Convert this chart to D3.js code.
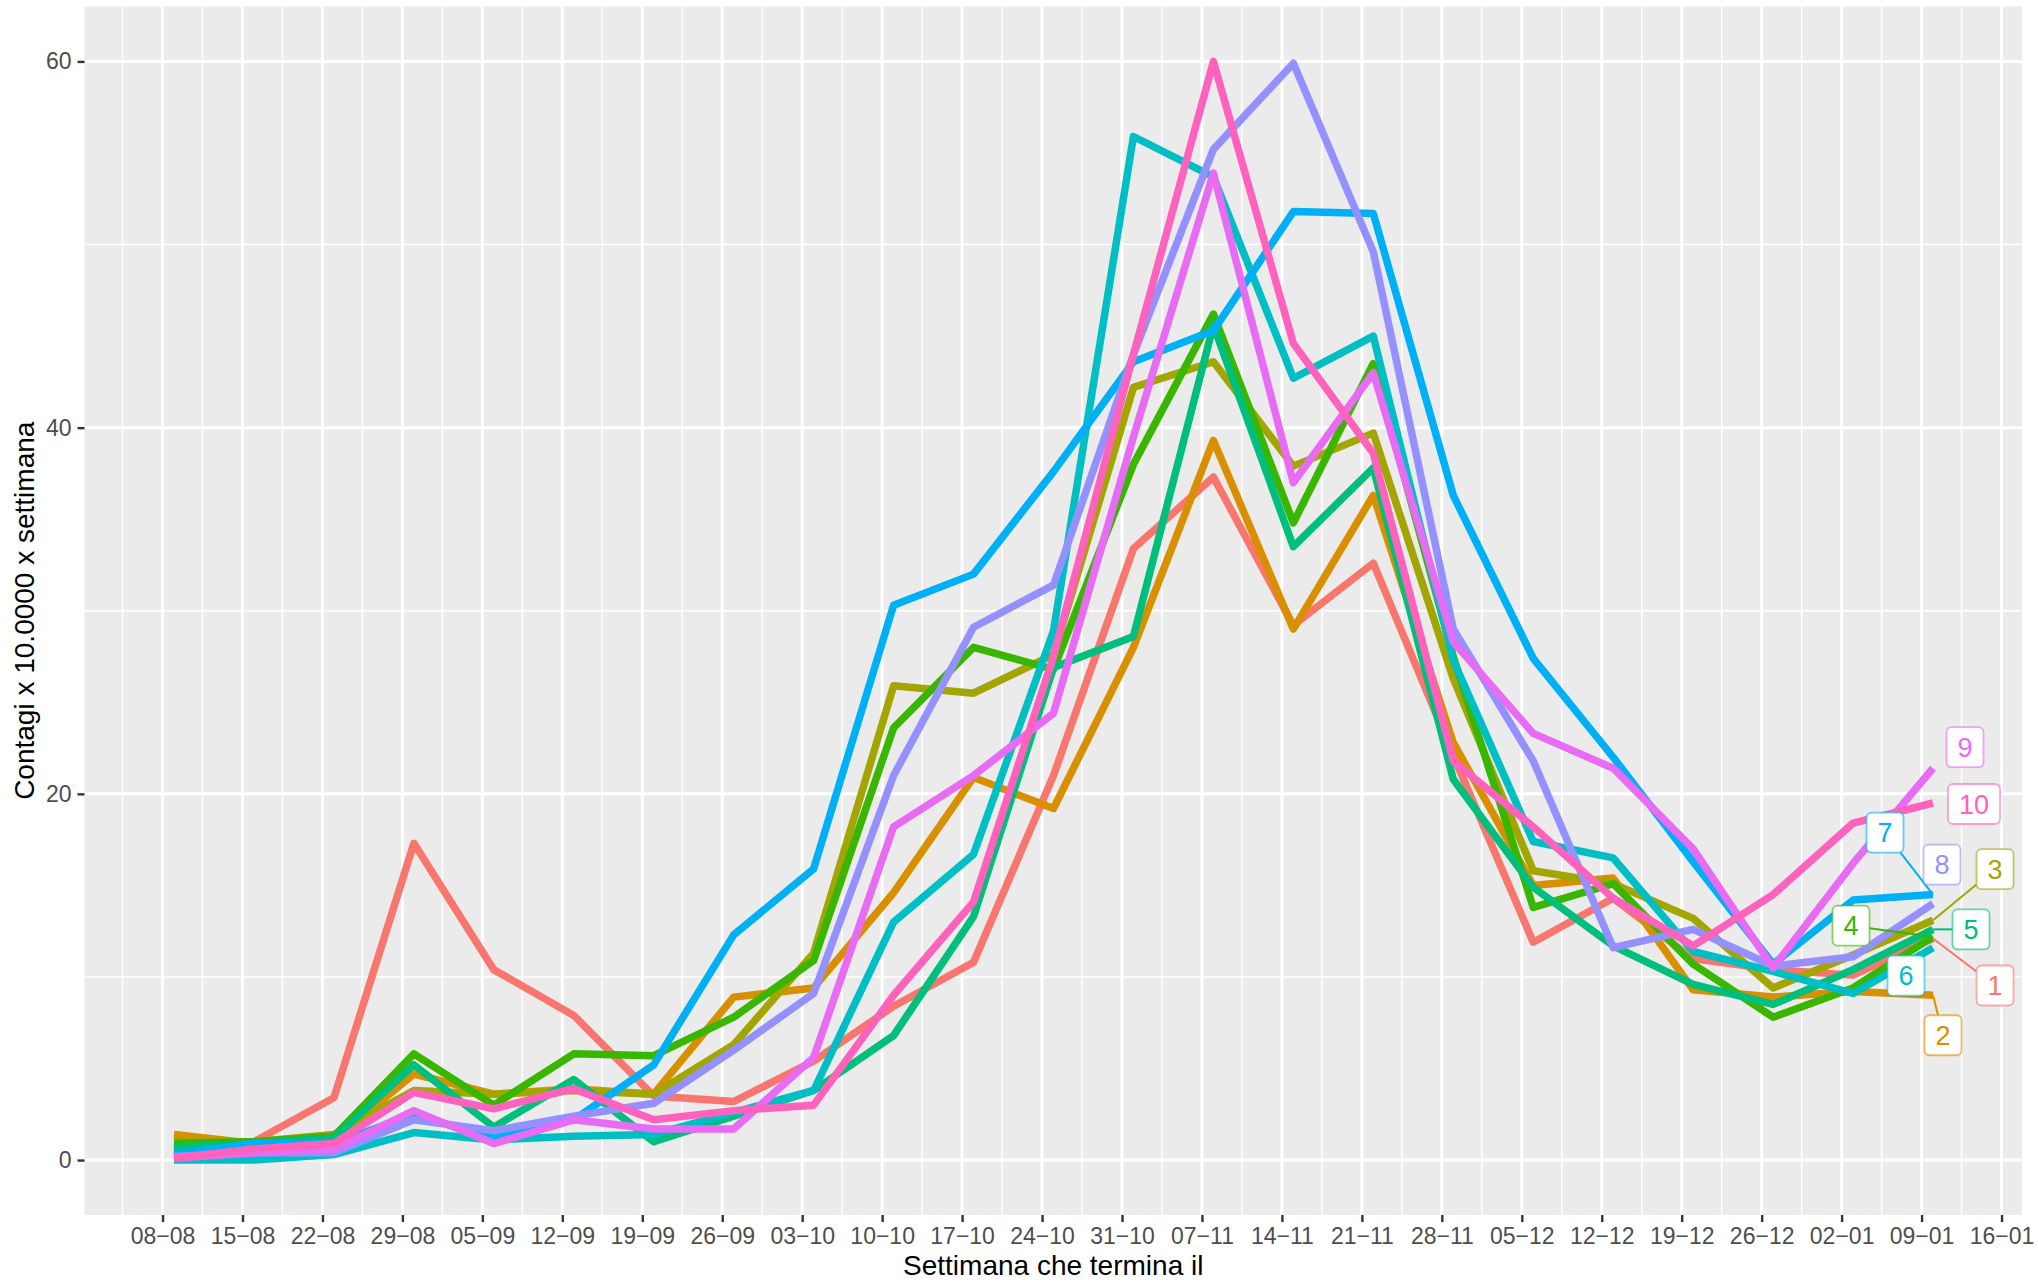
<!DOCTYPE html>
<html>
<head>
<meta charset="utf-8">
<script src="https://cdn.jsdelivr.net/npm/d3@7"></script>
<style>
  html, body { margin: 0; padding: 0; background: #fff; }
  svg { display: block; font-family: "Liberation Sans", Arial, sans-serif; }
</style>
</head>
<body>
<svg id="chart" width="2038" height="1283"></svg>
<script>
// weeks (data points) and axis breaks
const weekEnds = ["2020-08-09", "2020-08-16", "2020-08-23", "2020-08-30", "2020-09-06", "2020-09-13",
  "2020-09-20", "2020-09-27", "2020-10-04", "2020-10-11", "2020-10-18", "2020-10-25", "2020-11-01",
  "2020-11-08", "2020-11-15", "2020-11-22", "2020-11-29", "2020-12-06", "2020-12-13", "2020-12-20",
  "2020-12-27", "2021-01-03", "2021-01-10"]
const tickDates = ["2020-08-08", "2020-08-15", "2020-08-22", "2020-08-29", "2020-09-05", "2020-09-12",
  "2020-09-19", "2020-09-26", "2020-10-03", "2020-10-10", "2020-10-17", "2020-10-24", "2020-10-31",
  "2020-11-07", "2020-11-14", "2020-11-21", "2020-11-28", "2020-12-05", "2020-12-12", "2020-12-19",
  "2020-12-26", "2021-01-02", "2021-01-09", "2021-01-16"]
const yTicks = [0, 20, 40, 60]

const groups = ["1", "2", "3", "4", "5", "6", "7", "8", "9", "10"]

const s1 = [0.5, 1.0, 3.4, 17.3, 10.4, 7.9, 3.5, 3.2, 5.4, 8.4, 10.8, 21.0, 33.4, 37.3, 29.2, 32.6, 22.1, 11.9, 14.3, 11.0, 10.4, 10.1, 12.1]
const s2 = [1.4, 0.9, 1.1, 4.7, 3.6, 3.9, 3.6, 8.9, 9.4, 14.6, 20.9, 19.2, 28.0, 39.3, 29.0, 36.3, 22.8, 15.0, 15.4, 9.3, 8.9, 9.2, 9.0]
const s3 = [1.0, 1.0, 1.4, 3.8, 3.6, 3.8, 3.6, 6.3, 11.3, 25.9, 25.5, 27.6, 42.2, 43.6, 37.9, 39.7, 26.3, 15.8, 15.1, 13.2, 9.4, 11.2, 13.1]
const s4 = [0.9, 1.0, 1.3, 5.8, 3.0, 5.8, 5.7, 7.8, 10.9, 23.6, 28.0, 26.8, 38.0, 46.2, 34.8, 43.5, 27.5, 13.8, 15.1, 10.7, 7.8, 9.4, 12.2]
const s5 = [0.7, 0.9, 1.2, 5.2, 1.8, 4.4, 1.0, 2.4, 3.8, 6.8, 13.3, 26.9, 28.6, 45.6, 33.5, 37.8, 20.8, 14.9, 11.7, 9.6, 8.5, 10.4, 12.6]
const s6 = [0.0, 0.0, 0.3, 1.5, 1.1, 1.3, 1.4, 2.6, 3.8, 13.0, 16.7, 28.9, 55.9, 53.7, 42.7, 45.0, 27.3, 17.4, 16.5, 11.4, 10.3, 9.1, 11.6]
const s7 = [0.3, 0.9, 0.9, 2.5, 1.2, 2.2, 5.2, 12.3, 15.9, 30.3, 32.0, 37.6, 43.6, 45.3, 51.8, 51.7, 36.3, 27.4, 22.0, 16.3, 10.7, 14.2, 14.5]
const s8 = [0.2, 0.4, 0.4, 2.2, 1.6, 2.4, 3.1, 6.0, 9.1, 21.0, 29.1, 31.4, 44.0, 55.2, 59.9, 49.6, 29.0, 21.8, 11.6, 12.6, 10.6, 11.1, 14.0]
const s9 = [0.1, 0.4, 0.6, 2.7, 0.9, 2.2, 1.7, 1.7, 5.6, 18.2, 21.0, 24.4, 39.5, 53.9, 37.0, 43.0, 28.3, 23.3, 21.4, 17.0, 10.5, 16.2, 21.4]
const s10 = [0.1, 0.6, 0.9, 3.7, 2.8, 3.9, 2.2, 2.7, 3.0, 9.0, 14.1, 27.5, 44.0, 60.0, 44.6, 38.6, 21.8, 18.2, 14.3, 11.7, 14.5, 18.4, 19.5]
const seriesValues = [s1, s2, s3, s4, s5, s6, s7, s8, s9, s10]

// ggplot hue palette
const colors = ["#F8766D", "#D89000", "#A3A500", "#39B600", "#00BF7D", "#00BFC4", "#00B0F6", "#9590FF", "#E76BF3", "#FF62BC"]

// repelled label offsets from the last point (px), and whether a connector is drawn
const labelOffsets = [[62, 47], [10, 40], [62, -51], [-82, -11], [38, 0], [-27, 28], [-48, -62], [9, -39], [32, -21], [41, 1]]
const labelLinks = [true, true, true, true, true, false, true, false, false, false]

const parse = d3.utcParse("%Y-%m-%d")
const dates = weekEnds.map(parse)
const ticks = tickDates.map(parse)

const panel = { left: 84.5, top: 6.5, right: 2022, bottom: 1215 }

const svg = d3.select("#chart")

const padDays = 7.8
const x = d3.scaleUtc()
  .domain([d3.utcHour.offset(dates[0], -padDays * 24), d3.utcHour.offset(dates[dates.length - 1], padDays * 24)])
  .range([panel.left, panel.right])
const y = d3.scaleLinear().domain([-3, 63]).range([panel.bottom, panel.top])

// panel background
svg.append("rect")
  .attr("x", panel.left).attr("y", panel.top)
  .attr("width", panel.right - panel.left).attr("height", panel.bottom - panel.top)
  .attr("fill", "#EBEBEB")

// minor grid: midpoints between breaks
const minorX = [new Date(ticks[0].getTime() - (ticks[1] - ticks[0]) / 2)]
  .concat(ticks.slice(1).map((t, i) => new Date((t.getTime() + ticks[i].getTime()) / 2)))
  .filter(d => x(d) > panel.left && x(d) < panel.right)
const minorY = yTicks.slice(1).map((t, i) => (t + yTicks[i]) / 2)

const grid = svg.append("g")
grid.selectAll(".minor-x").data(minorX).join("line")
  .attr("x1", d => x(d)).attr("x2", d => x(d))
  .attr("y1", panel.top).attr("y2", panel.bottom)
  .attr("stroke", "#fff").attr("stroke-width", 1.5)
grid.selectAll(".minor-y").data(minorY).join("line")
  .attr("y1", d => y(d)).attr("y2", d => y(d))
  .attr("x1", panel.left).attr("x2", panel.right)
  .attr("stroke", "#fff").attr("stroke-width", 1.5)
grid.selectAll(".major-x").data(ticks).join("line")
  .attr("x1", d => x(d)).attr("x2", d => x(d))
  .attr("y1", panel.top).attr("y2", panel.bottom)
  .attr("stroke", "#fff").attr("stroke-width", 3)
grid.selectAll(".major-y").data(yTicks).join("line")
  .attr("y1", d => y(d)).attr("y2", d => y(d))
  .attr("x1", panel.left).attr("x2", panel.right)
  .attr("stroke", "#fff").attr("stroke-width", 3)

// axes
const styleAxis = g => {
  g.select(".domain").remove()
  g.selectAll(".tick line").attr("stroke", "#333333").attr("stroke-width", 2.4)
  g.selectAll(".tick text").attr("font-size", 23).attr("fill", "#4D4D4D")
    .attr("font-family", "'Liberation Sans', Arial, sans-serif")
}

svg.append("g")
  .attr("transform", `translate(0,${panel.bottom})`)
  .call(d3.axisBottom(x).tickValues(ticks).tickFormat(d3.utcFormat("%d\u2212%m")).tickSize(7).tickPadding(5.5))
  .call(styleAxis)

svg.append("g")
  .attr("transform", `translate(${panel.left},0)`)
  .call(d3.axisLeft(y).tickValues(yTicks).tickSize(7).tickPadding(6))
  .call(styleAxis)

// axis titles
svg.append("text")
  .attr("x", (panel.left + panel.right) / 2).attr("y", 1275)
  .attr("text-anchor", "middle").attr("font-size", 28).attr("fill", "#000")
  .text("Settimana che termina il")

svg.append("text")
  .attr("transform", `translate(34,${(panel.top + panel.bottom) / 2}) rotate(-90)`)
  .attr("text-anchor", "middle").attr("font-size", 28).attr("fill", "#000")
  .text("Contagi x 10.0000 x settimana")

// lines
const line = d3.line()
  .x((d, i) => x(dates[i]))
  .y(d => y(d))

svg.append("g")
  .selectAll("path")
  .data(seriesValues)
  .join("path")
  .attr("d", d => line(d))
  .attr("fill", "none")
  .attr("stroke", (d, i) => colors[i])
  .attr("stroke-width", 7.5)
  .attr("stroke-linejoin", "round")

// end labels (ggrepel style)
const labels = svg.append("g")
const lastDate = dates[dates.length - 1]
const fontSize = 27
const boxH = 40

groups.forEach((name, i) => {
  const vals = seriesValues[i]
  const px = x(lastDate)
  const py = y(vals[vals.length - 1])
  const cx = px + labelOffsets[i][0]
  const cy = py + labelOffsets[i][1]

  const t = labels.append("text")
    .attr("x", cx).attr("y", cy)
    .attr("dy", "0.36em")
    .attr("text-anchor", "middle")
    .attr("font-size", fontSize)
    .attr("fill", colors[i])
    .text(name)
  const tw = t.node().getComputedTextLength()
  const boxW = tw + 22

  if (labelLinks[i]) {
    // segment from the point to the box border, towards the label centre
    const dx = cx - px, dy = cy - py
    const sx = (boxW / 2) / Math.abs(dx || 1e-6)
    const sy = (boxH / 2) / Math.abs(dy || 1e-6)
    const s = Math.min(sx, sy, 1)
    labels.insert("line", "text")
      .attr("x1", px).attr("y1", py)
      .attr("x2", cx - dx * s).attr("y2", cy - dy * s)
      .attr("stroke", colors[i]).attr("stroke-width", 2)
  }

  labels.insert("rect", "text")
    .attr("x", cx - boxW / 2).attr("y", cy - boxH / 2)
    .attr("width", boxW).attr("height", boxH)
    .attr("rx", 5)
    .attr("fill", "#fff")
    .attr("stroke", colors[i]).attr("stroke-opacity", 0.6).attr("stroke-width", 1.8)
})
</script>
</body>
</html>
